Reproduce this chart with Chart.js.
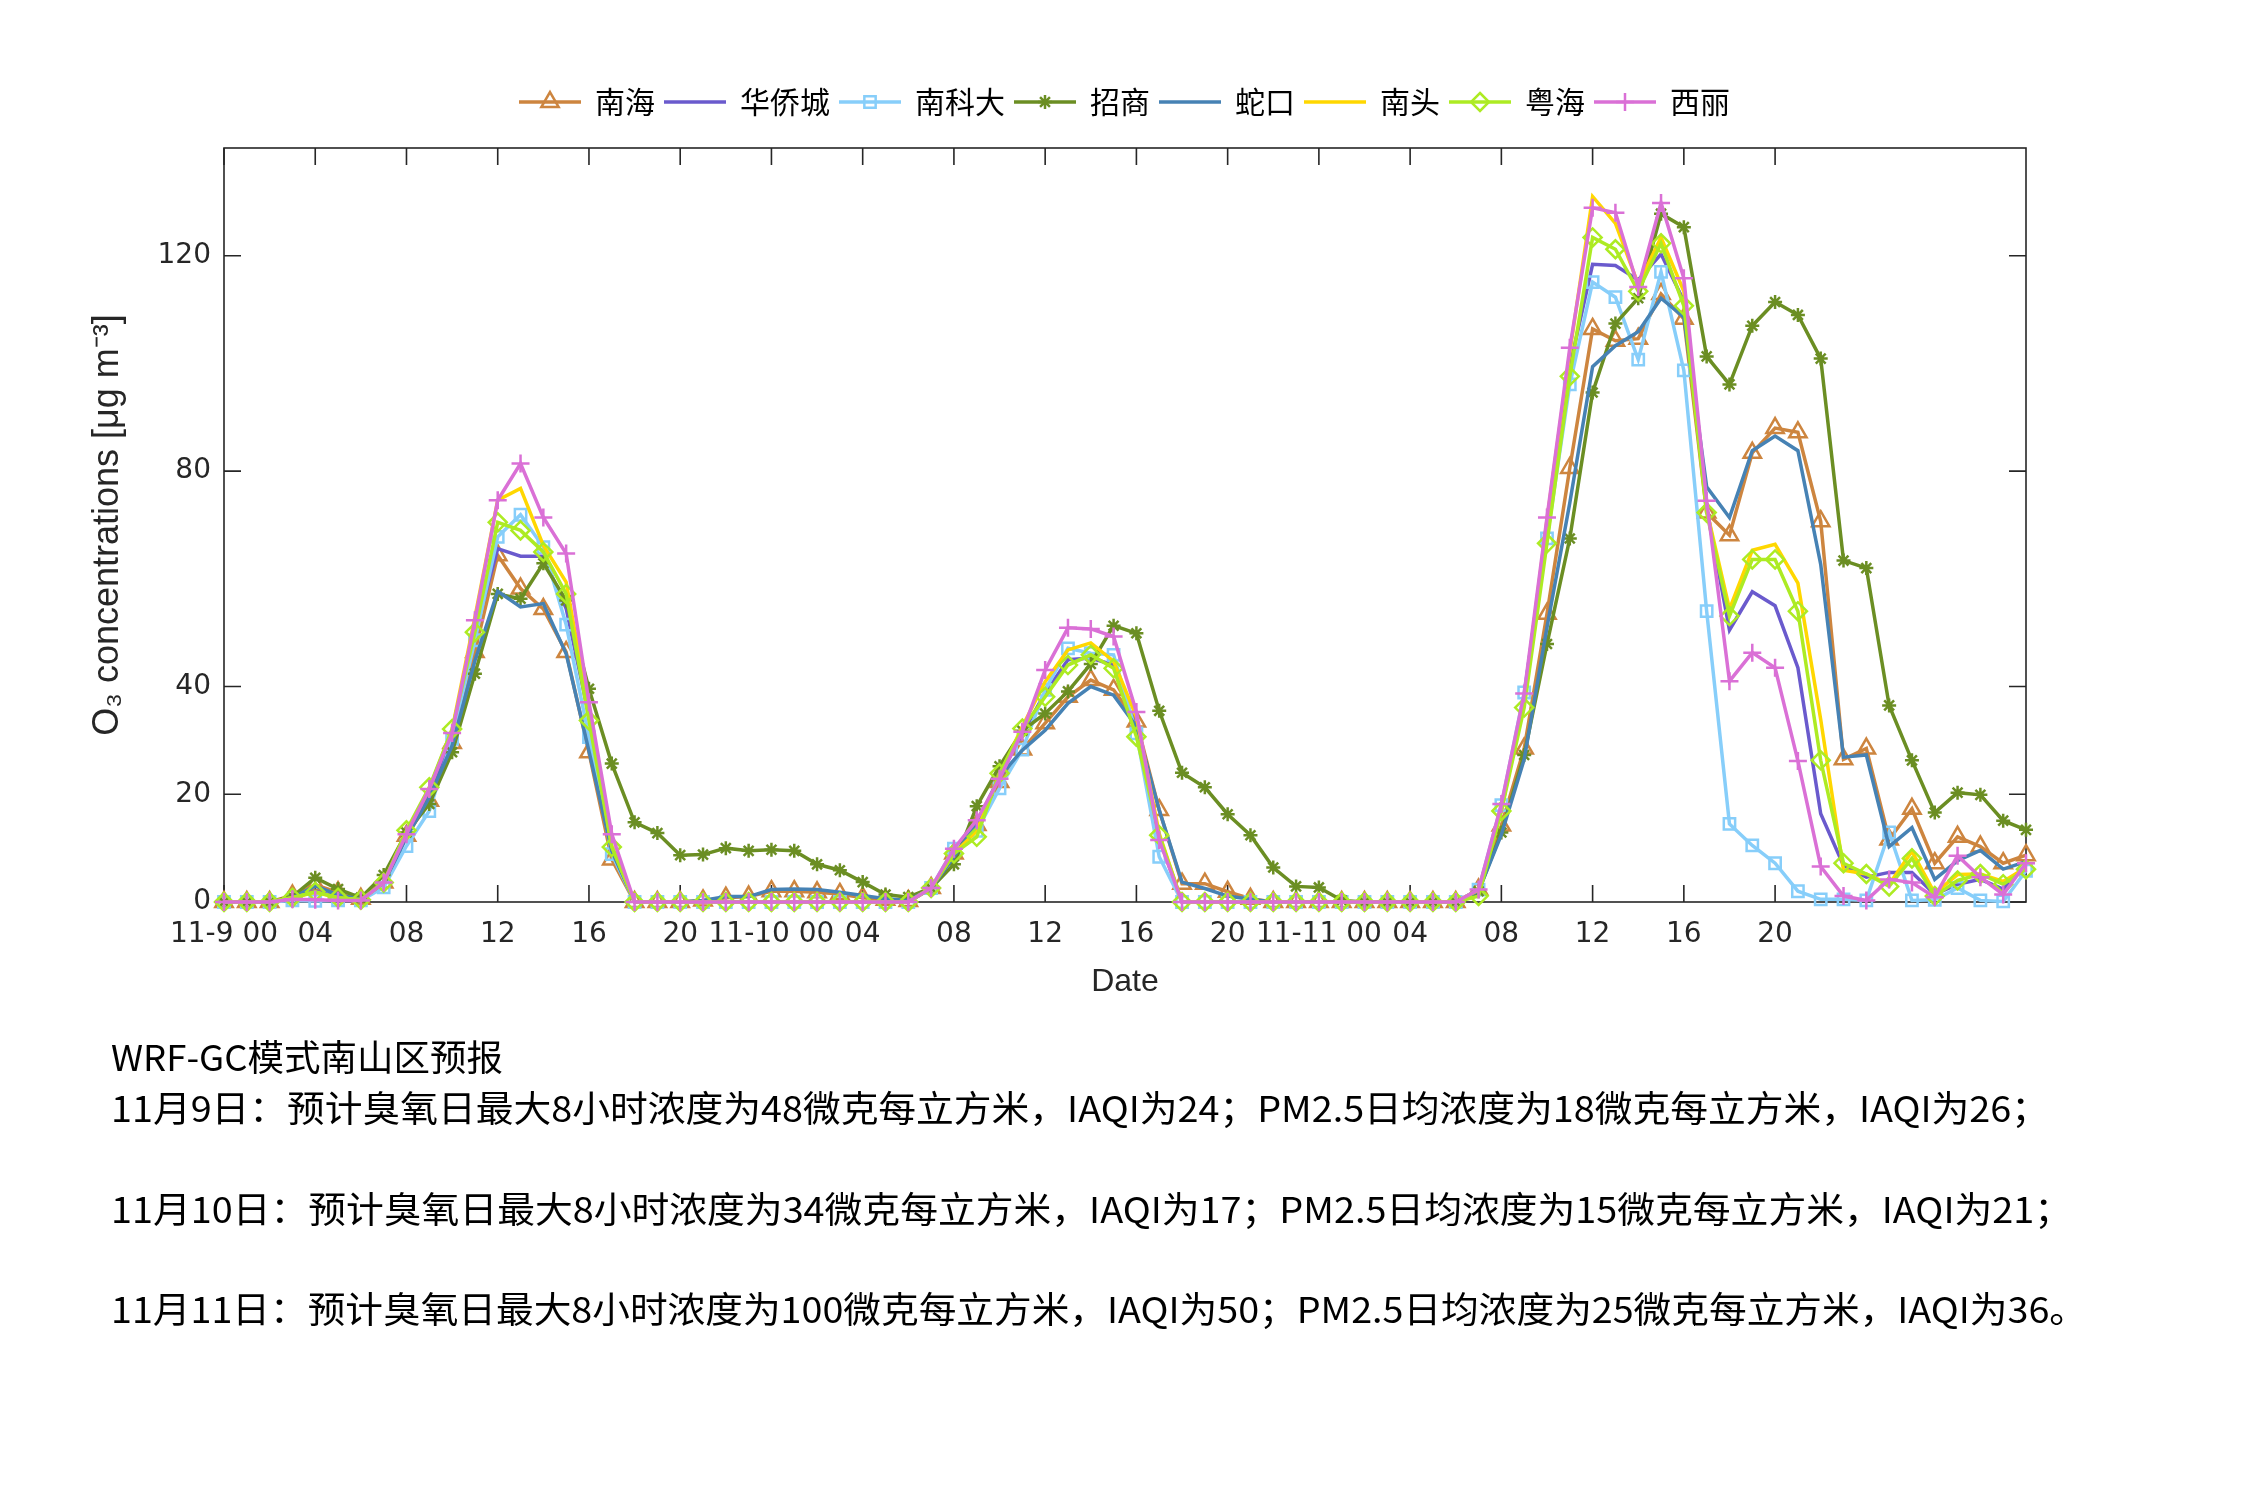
<!DOCTYPE html>
<html>
<head>
<meta charset="utf-8">
<script src="https://cdn.jsdelivr.net/npm/chart.js@4.4.1/dist/chart.umd.min.js"></script>
<style>
html,body{margin:0;padding:0;background:#fff;}
#wrap{position:relative;width:2250px;height:1500px;overflow:hidden;}
#c{position:absolute;left:0;top:0;width:2250px;height:1500px;}
.note{position:absolute;left:111px;font-family:'Liberation Sans Narrow','Noto Sans CJK SC',sans-serif;font-size:36px;line-height:36px;color:#000;white-space:nowrap;transform-origin:0 50%;}
</style>
</head>
<body>
<div id="wrap">
<canvas id="c" width="2250" height="1500"></canvas>
<div class="note" id="n0" data-w="392" style="top:1037px">WRF-GC模式南山区预报</div>
<div class="note" id="n1" data-w="1938" style="top:1088px">11月9日：预计臭氧日最大8小时浓度为48微克每立方米，IAQI为24；PM2.5日均浓度为18微克每立方米，IAQI为26；</div>
<div class="note" id="n2" data-w="1961" style="top:1189px">11月10日：预计臭氧日最大8小时浓度为34微克每立方米，IAQI为17；PM2.5日均浓度为15微克每立方米，IAQI为21；</div>
<div class="note" id="n3" data-w="1976" style="top:1289px">11月11日：预计臭氧日最大8小时浓度为100微克每立方米，IAQI为50；PM2.5日均浓度为25微克每立方米，IAQI为36。</div>
</div>
<script>
// ---- data ----
const hours = Array.from({length: 80}, (_, i) => i);   // hourly index from 11-9 00
const xTickHours = [0,4,8,12,16,20,24,28,32,36,40,44,48,52,56,60,64,68];
const xTickLabels = ['11-9 00','04','08','12','16','20','11-10 00','04','08','12','16','20','11-11 00','04','08','12','16','20'];
const yTicks = [0,20,40,80,120];
const seriesNames = ['南海','华侨城','南科大','招商','蛇口','南头','粤海','西丽'];

const nanhai = [0,0,0,1.2,3.2,1.8,0.6,3.6,12.3,18.8,
  29.5,46.4,64.4,58.2,54.4,46.4,27.8,7.9,0,0,
  0,0.3,0.8,1.0,2.0,2.0,1.8,1.5,0.8,0.4,
  0.2,2.6,9.0,14.3,22.3,28.3,33.2,38.1,41.2,39.4,
  33.5,17.1,3.4,3.4,1.9,0.6,0,0,0,0,
  0,0,0,0,0,2.3,14.2,28.5,53.5,80.6,
  106.4,104.2,104.6,112.9,108.3,72.3,68.1,83.4,88.0,87.2,
  70.7,26.5,28.5,11.6,17.3,7.2,12.1,10.3,7.2,8.7];
const huaqiaocheng = [0,0,0,0.8,2.0,1.0,0.5,3.3,12.5,20.0,
  31.0,50.0,65.6,64.2,64.2,54.5,34.5,9.5,0,0,
  0,0,0,0,0,0,0,0,0,0,
  0,2.5,9.3,13.8,23.3,31.3,38.8,45.0,45.3,44.0,
  31.9,11.8,0,0,0,0,0,0,0,0,
  0,0,0,0,0,2.2,17.2,38.3,69.7,99.4,
  118.4,118.2,115.5,120.3,111.6,73.2,50.5,57.6,55.0,43.5,
  16.4,6.8,4.6,5.5,5.5,1.4,3.3,4.2,2.4,6.8];
const nankeda = [0,0,0,0.3,0.2,0.3,0.3,2.7,10.4,16.9,
  30.3,48.6,67.8,71.9,65.9,51.5,30.6,8.9,0,0,
  0,0,0,0,0,0,0,0,0,0,
  0,2.6,9.9,13.2,21.1,28.3,39.4,47.1,46.2,45.9,
  31.3,8.4,0,0,0,0,0,0,0,0,
  0,0,0,0,0,2.3,18.0,38.9,67.5,96.1,
  115.1,112.3,100.7,117.0,98.7,54.0,14.5,10.5,7.2,2.0,
  0.5,0.5,0.3,12.9,0.3,0.4,2.6,0.3,0.1,5.8];
const zhaoshang = [0,0,0,1.0,4.5,2.4,0.8,5.0,12.9,18.2,
  27.8,42.4,57.2,56.3,62.9,56.0,39.6,25.7,14.8,12.8,
  8.7,8.8,10.0,9.5,9.7,9.5,7.0,5.9,3.7,1.4,
  0.9,2.6,7.0,17.8,25.2,31.8,35.0,39.1,44.2,51.3,
  49.9,35.5,24.0,21.3,16.3,12.4,6.4,2.9,2.7,0.3,
  0,0,0,0,0,2.0,12.9,27.3,47.9,67.5,
  94.6,107.4,112.1,127.8,125.3,101.3,96.1,107.0,111.4,109.0,
  100.9,63.4,62.0,36.5,26.3,16.6,20.3,19.9,15.1,13.4];
const shekou = [0,0,0,0.8,3.0,1.3,0.5,3.5,12.0,19.4,
  29.0,44.8,57.7,54.8,55.4,46.1,28.0,9.5,0,0,
  0,0.3,1.0,1.0,2.3,2.4,2.3,1.8,1.2,0.6,
  0.3,2.5,8.4,14.6,23.3,28.2,31.9,36.9,40.0,38.4,
  32.6,17.1,3.7,2.5,1.1,0.5,0,0,0,0,
  0,0,0,0,0,2.0,12.5,26.5,51.0,74.1,
  99.4,103.3,105.9,112.1,108.6,77.1,71.4,83.8,86.5,83.8,
  62.7,26.9,27.3,10.3,13.8,4.2,7.7,9.6,6.1,7.5];
const nantou = [0,0,0,0.8,1.8,0.8,0.4,3.6,13.0,21.0,
  32.0,52.9,74.6,76.8,66.2,59.4,35.5,10.4,0,0,
  0,0,0,0,0,0,0,0,0,0,
  0,2.6,9.0,13.2,23.6,32.6,40.9,46.8,48.1,44.7,
  34.4,12.7,0,0,0,0,0,0,0,0,
  0,0,0,0,0,2.2,17.0,37.4,71.0,102.0,
  131.0,126.0,114.7,123.4,113.4,72.8,54.4,65.3,66.4,59.2,
  33.9,5.9,5.2,3.3,9.4,1.6,5.1,5.2,3.8,6.4];
const yuehai = [0,0,0,0.8,1.9,0.8,0.4,3.6,13.3,21.3,
  32.1,50.1,70.5,69.0,65.0,57.2,33.7,10.2,0,0,
  0,0,0,0,0,0,0,0,0,0,
  0,2.6,9.0,12.1,23.9,32.2,38.1,44.0,45.9,43.4,
  30.7,12.4,0,0,0,0,0,0,0,0,
  0,0,0,0,0,1.1,16.9,36.1,66.6,97.6,
  123.4,121.2,113.4,122.3,110.7,72.3,53.1,63.6,63.6,54.0,
  26.3,7.2,5.2,2.9,8.1,1.1,4.0,5.2,3.3,6.1];
const xili = [0,0,0,0.5,0.4,0.3,0.3,3.6,12.6,21.0,
  31.4,52.3,74.6,81.4,71.4,64.7,37.1,12.6,0,0,
  0,0,0,0,0,0,0,0,0,0,
  0,2.6,9.9,15.2,22.9,31.6,43.1,50.9,50.7,49.3,
  35.3,11.5,0,0,0,0,0,0,0,0,
  0,0,0,0,0,2.3,18.2,38.7,71.4,102.9,
  128.9,128.0,114.2,129.8,115.8,74.5,41.0,46.3,43.5,26.2,
  6.6,1.1,0.3,4.2,3.6,0.9,8.6,4.6,1.4,7.2];

const seriesValues = [nanhai, huaqiaocheng, nankeda, zhaoshang, shekou, nantou, yuehai, xili];

// ---- styles ----
const styles = [
  {color:'#CD853F', marker:'triangle', r:10},
  {color:'#6A5ACD', marker:null, r:0},
  {color:'#87CEFA', marker:'rect', r:8},
  {color:'#6B8E23', marker:'star', r:7},
  {color:'#4682B4', marker:null, r:0},
  {color:'#FFD700', marker:null, r:0},
  {color:'#ADEB23', marker:'rectRot', r:9},
  {color:'#DA70D6', marker:'cross', r:9}
];

function drawMarker(g, type, x, y, r){
  g.beginPath();
  if (type === 'triangle'){
    let a = 0;
    g.moveTo(x + Math.sin(a)*r, y - Math.cos(a)*r);
    a += 2*Math.PI/3; g.lineTo(x + Math.sin(a)*r, y - Math.cos(a)*r);
    a += 2*Math.PI/3; g.lineTo(x + Math.sin(a)*r, y - Math.cos(a)*r);
    g.closePath();
  } else if (type === 'rect'){
    const s = Math.SQRT1_2*r; g.rect(x-s, y-s, 2*s, 2*s);
  } else if (type === 'rectRot'){
    g.moveTo(x, y-r); g.lineTo(x+r, y); g.lineTo(x, y+r); g.lineTo(x-r, y); g.closePath();
  } else if (type === 'cross'){
    g.moveTo(x-r, y); g.lineTo(x+r, y); g.moveTo(x, y-r); g.lineTo(x, y+r);
  } else if (type === 'star'){
    g.moveTo(x-r, y); g.lineTo(x+r, y); g.moveTo(x, y-r); g.lineTo(x, y+r);
    const d = r*Math.SQRT1_2;
    g.moveTo(x-d, y-d); g.lineTo(x+d, y+d); g.moveTo(x-d, y+d); g.lineTo(x+d, y-d);
  }
  g.stroke();
}

function legendImage(st){
  const c = document.createElement('canvas');
  c.width = 62; c.height = 26;
  const g = c.getContext('2d');
  g.strokeStyle = st.color; g.lineWidth = 3.5;
  g.beginPath(); g.moveTo(0, 13); g.lineTo(62, 13); g.stroke();
  if (st.marker){ g.lineWidth = 2.5; drawMarker(g, st.marker, 31, 13, st.r); }
  return c;
}
const legendImages = styles.map(legendImage);

const datasets = seriesNames.map((name, i) => ({
  label: name,
  data: seriesValues[i],
  borderColor: styles[i].color,
  backgroundColor: styles[i].color,
  borderWidth: 3.5,
  pointStyle: styles[i].marker || 'circle',
  pointRadius: styles[i].marker ? styles[i].r : 0,
  pointBorderWidth: 2.5,
  pointBorderColor: styles[i].color,
  pointBackgroundColor: 'rgba(255,255,255,0)',
  tension: 0,
  fill: false,
  clip: false,
  order: seriesNames.length - i
}));

const TICK = 17;
const LEGEND_TOP = 77;
const framePlugin = {
  id: 'frame',
  afterLayout(chart){
    const L = chart.legend;
    if (L){
      const d = L.top - LEGEND_TOP;
      L.top -= d; L.bottom -= d;
    }
  },
  beforeDatasetsDraw(chart){
    const {ctx, chartArea: a, scales} = chart;
    ctx.save();
    ctx.strokeStyle = '#262626';
    ctx.lineWidth = 1.6;
    ctx.strokeRect(a.left, a.top, a.right - a.left, a.bottom - a.top);
    ctx.beginPath();
    xTickHours.forEach(h => {
      const x = scales.x.getPixelForValue(h);
      ctx.moveTo(x, a.bottom); ctx.lineTo(x, a.bottom - TICK);
      ctx.moveTo(x, a.top); ctx.lineTo(x, a.top + TICK);
    });
    yTicks.forEach(v => {
      const y = scales.y.getPixelForValue(v);
      ctx.moveTo(a.left, y); ctx.lineTo(a.left + TICK, y);
      ctx.moveTo(a.right, y); ctx.lineTo(a.right - TICK, y);
    });
    ctx.stroke();
    ctx.restore();
  }
};

new Chart(document.getElementById('c'), {
  type: 'line',
  data: { labels: hours, datasets: datasets },
  options: {
    responsive: false,
    devicePixelRatio: 1,
    animation: false,
    events: [],
    layout: { padding: { top: LEGEND_TOP, left: 0, right: 0, bottom: 0 } },
    plugins: {
      tooltip: { enabled: false },
      legend: {
        position: 'top',
        align: 'center',
        labels: {
          usePointStyle: true,
          pointStyleWidth: 60,
          padding: 10,
          color: '#000',
          font: { family: "'Noto Sans CJK SC', sans-serif", size: 30 },
          generateLabels(chart){
            return chart.data.datasets.map((ds, i) => ({
              text: ds.label,
              pointStyle: legendImages[i],
              fillStyle: ds.borderColor,
              strokeStyle: ds.borderColor,
              lineWidth: 0,
              hidden: false,
              datasetIndex: i,
              fontColor: '#000'
            }));
          }
        }
      }
    },
    scales: {
      x: {
        type: 'linear',
        min: 0, max: 79,
        grid: { display: false, drawTicks: false },
        border: { display: false },
        afterBuildTicks(s){ s.ticks = xTickHours.map(v => ({value: v})); },
        afterFit(s){ s.height = 598; },
        ticks: {
          autoSkip: false, maxRotation: 0, minRotation: 0, padding: 16,
          color: '#262626',
          font: { family: "'DejaVu Sans', sans-serif", size: 28 },
          callback: (v, i) => xTickLabels[i]
        },
        title: {
          display: true, text: 'Date', color: '#262626',
          font: { family: "'Liberation Sans', sans-serif", size: 32 },
          padding: { top: 0, bottom: 499 }
        }
      },
      y: {
        type: 'linear',
        position: 'left',
        min: 0, max: 140,
        grid: { display: false, drawTicks: false },
        border: { display: false },
        afterBuildTicks(s){ s.ticks = yTicks.map(v => ({value: v})); },
        afterFit(s){ s.width = 224; s.paddingTop = 148; },
        ticks: {
          padding: 13, color: '#262626',
          font: { family: "'DejaVu Sans', sans-serif", size: 28 }
        },
        title: {
          display: true, text: 'O₃ concentrations [μg m⁻³]', color: '#262626',
          font: { family: "'Liberation Sans', sans-serif", size: 36 },
          padding: { top: 86, bottom: 0 }
        }
      },
      yRight: {
        type: 'linear',
        position: 'right',
        min: 0, max: 140,
        grid: { display: false, drawTicks: false },
        border: { display: false },
        ticks: { display: false },
        afterFit(s){ s.width = 224; }
      }
    }
  },
  plugins: [framePlugin]
});

function fitNotes(){
  document.querySelectorAll('.note').forEach(el => {
    el.style.transform = 'none';
    const w = el.getBoundingClientRect().width;
    const target = +el.dataset.w;
    if (w > 0) el.style.transform = 'scaleX(' + (target / w) + ')';
  });
}
fitNotes();
if (document.fonts && document.fonts.ready) document.fonts.ready.then(fitNotes);
</script>
</body>
</html>
